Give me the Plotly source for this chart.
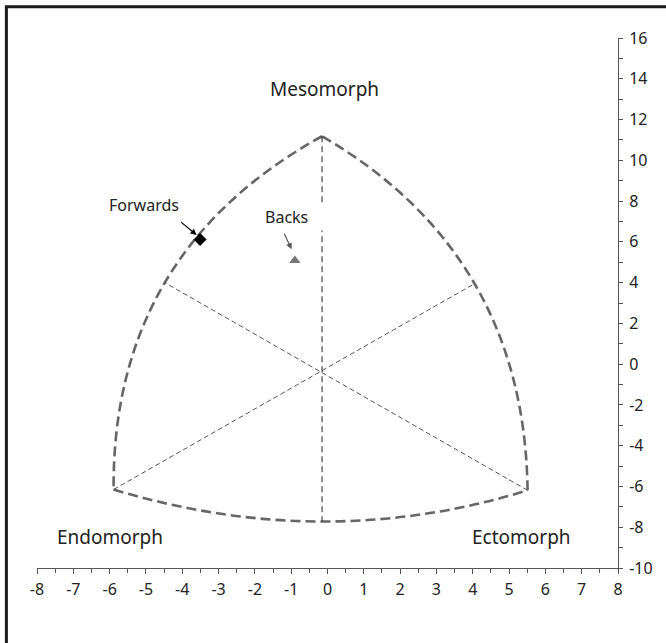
import plotly.graph_objects as go

# --- data ---
vertex_names = ["Mesomorph", "Endomorph", "Ectomorph"]
vertex_x = [-0.15, -5.89, 5.51]
vertex_y = [11.18, -6.15, -6.19]

# apex of each boundary arc: [Meso-Endo arc, Endo-Ecto arc, Ecto-Meso arc]
arc_mid_x = [-4.48, -0.15, 4.05]
arc_mid_y = [4.00, -7.72, 3.95]

group_names = ["Forwards", "Backs"]
group_x = [-3.51, -0.90]
group_y = [6.12, 5.08]

x_tick_vals = list(range(-8, 9))
x_tick_labels = ["-8", "-7", "-6", "-5", "-4", "-3", "-2", "-1", "0",
                 "1", "2", "3", "4", "5", "6", "7", "8"]
y_tick_vals = list(range(-10, 17, 2))
y_tick_labels = ["-10", "-8", "-6", "-4", "-2", "0", "2", "4", "6",
                 "8", "10", "12", "14", "16"]

FONT = "Noto Sans"
fig = go.Figure()

shapes = []
# boundary arcs as quadratic Bezier curves through each arc apex
arc_pairs = [(0, 1), (1, 2), (2, 0)]
for k, (a, b) in enumerate(arc_pairs):
    x0, y0 = vertex_x[a], vertex_y[a]
    x2, y2 = vertex_x[b], vertex_y[b]
    cx = 2 * arc_mid_x[k] - (x0 + x2) / 2
    cy = 2 * arc_mid_y[k] - (y0 + y2) / 2
    shapes.append(dict(type="path", xref="x", yref="y",
                       path=f"M {x0},{y0} Q {cx},{cy} {x2},{y2}",
                       line=dict(color="#666666", width=2.6, dash="10px,5px"),
                       layer="below"))

# spokes: each vertex to the apex of the opposite arc
opp_arc = [1, 2, 0]
for v in range(3):
    k = opp_arc[v]
    is_vertical = (v == 0)
    shapes.append(dict(type="line", xref="x", yref="y",
                       x0=vertex_x[v], y0=vertex_y[v],
                       x1=arc_mid_x[k], y1=arc_mid_y[k],
                       line=dict(color="#222222" if is_vertical else "#555555",
                                 width=1.0, dash="6px,4px" if is_vertical else "5px,3px"),
                       layer="below"))

# outer frame (only top and left edges fall inside the picture)
shapes.append(dict(type="rect", xref="paper", yref="paper",
                   x0=-0.0527, y0=-0.3, x1=1.3, y1=1.0591,
                   line=dict(color="#1a1a1a", width=3), fillcolor="rgba(0,0,0,0)"))

fig.add_trace(go.Scatter(x=[group_x[0]], y=[group_y[0]], mode="markers",
                         marker=dict(symbol="diamond", size=10, color="black"),
                         name=group_names[0], showlegend=False))
fig.add_trace(go.Scatter(x=[group_x[1]], y=[group_y[1]], mode="markers",
                         marker=dict(symbol="triangle-up", size=10, color="#777777"),
                         name=group_names[1], showlegend=False))

annotations = [
    dict(x=-0.08, y=13.49, text=vertex_names[0], showarrow=False,
         font=dict(family=FONT, size=19, color="#222222")),
    dict(x=-5.98, y=-8.50, text=vertex_names[1], showarrow=False,
         font=dict(family=FONT, size=19, color="#222222")),
    dict(x=5.34, y=-8.50, text=vertex_names[2], showarrow=False,
         font=dict(family=FONT, size=19, color="#222222")),
    dict(x=-5.06, y=7.81, text=group_names[0], showarrow=False,
         font=dict(family=FONT, size=16, color="#222222")),
    dict(x=-0.92, y=7.24, text=group_names[1], showarrow=False,
         bgcolor="white", width=58, height=20, borderpad=3, align="left",
         font=dict(family=FONT, size=16, color="#222222")),
    # arrows
    dict(x=-3.605, y=6.34, text="", showarrow=True, axref="pixel", ayref="pixel",
         ax=-17, ay=-14, arrowhead=2, arrowsize=1, arrowwidth=1.2,
         arrowcolor="black", standoff=0),
    dict(x=-0.99, y=5.64, text="", showarrow=True, axref="pixel", ayref="pixel",
         ax=-8, ay=-17, arrowhead=2, arrowsize=1, arrowwidth=1.2,
         arrowcolor="#555555", standoff=0),
]

fig.update_layout(
    width=666, height=643,
    margin=dict(l=37, r=48, t=38, b=75),
    paper_bgcolor="white", plot_bgcolor="white",
    showlegend=False,
    shapes=shapes, annotations=annotations,
    xaxis=dict(range=[-8, 8], showgrid=False, zeroline=False,
               showline=True, linecolor="#555555", linewidth=1,
               ticks="outside", ticklen=5, tickcolor="#555555",
               tickvals=x_tick_vals, ticktext=x_tick_labels,
               tickfont=dict(family=FONT, size=16, color="#222222"),
               ticklabelstandoff=2,
               minor=dict(ticks="outside", ticklen=4, dtick=0.5, tick0=0,
                          tickcolor="#555555", showgrid=False),
               fixedrange=True),
    yaxis=dict(range=[-10, 16], side="right", showgrid=False, zeroline=False,
               showline=True, linecolor="#555555", linewidth=1,
               ticks="outside", ticklen=4, tickcolor="#555555",
               tickvals=y_tick_vals, ticktext=y_tick_labels,
               tickfont=dict(family=FONT, size=16, color="#222222"),
               ticklabelstandoff=3,
               minor=dict(ticks="outside", ticklen=4, dtick=1, tick0=0,
                          tickcolor="#555555", showgrid=False),
               fixedrange=True),
)

fig.write_html("out.html", config={"displayModeBar": False},
               post_script="document.body.style.margin='0';document.body.style.overflow='hidden';")
